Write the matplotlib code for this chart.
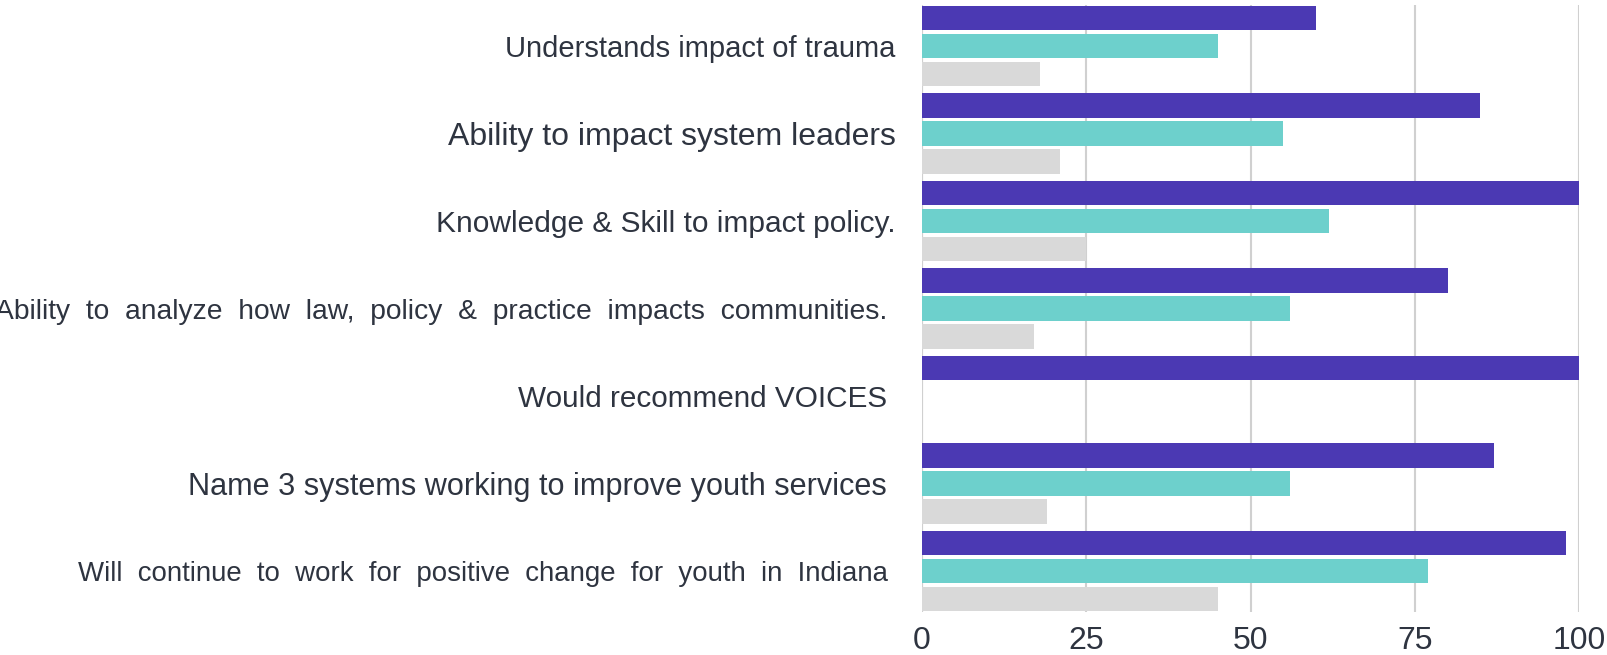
import matplotlib.pyplot as plt
import numpy as np

# survey items, top to bottom
categories = [
    "Understands impact of trauma",
    "Ability to impact system leaders",
    "Knowledge & Skill to impact policy.",
    "Ability  to  analyze  how  law,  policy  &  practice  impacts  communities. ",
    "Would recommend VOICES ",
    "Name 3 systems working to improve youth services ",
    "Will  continue  to  work  for  positive  change  for  youth  in  Indiana ",
]
series_purple = [60, 85, 100, 80, 100, 87, 98]
series_teal = [45, 55, 62, 56, 0, 56, 77]
series_gray = [18, 21, 25, 17, 0, 19, 45]
x_ticks = [0, 25, 50, 75, 100]
# label sizes differ a little in the original
label_sizes = [21, 23, 21.5, 20.3, 21.4, 22.1, 19.9]

purple = "#4b39b3"
teal = "#6dd0cc"
gray = "#d9d9d9"
text_color = "#2e3440"

plt.rcParams['font.family'] = ['Liberation Sans', 'DejaVu Sans']

fig = plt.figure(figsize=(16.07, 6.55), dpi=100)
ax = fig.add_axes([922 / 1607, 1 - 612 / 655, (1579 - 922) / 1607, 607 / 655])

y = np.arange(len(categories))
h = 0.28
off = 0.32
ax.barh(y - off, series_purple, height=h, color=purple, zorder=3)
ax.barh(y, series_teal, height=h, color=teal, zorder=3)
ax.barh(y + off, series_gray, height=h, color=gray, zorder=3)

ax.set_xlim(0, 100)
ax.set_ylim(len(categories) - 1 + 0.47, -0.47)
ax.set_xticks(x_ticks)
ax.set_yticks(y)
ax.set_yticklabels(categories)
for lbl, fs in zip(ax.get_yticklabels(), label_sizes):
    lbl.set_fontsize(fs)

ax.grid(axis='x', color='#d0d0d0', linewidth=1.5, zorder=0)
ax.axvline(0, color='#d0d0d0', linewidth=1.5, zorder=1)
for s in ax.spines.values():
    s.set_visible(False)

ax.tick_params(axis='y', length=0, pad=19, labelcolor=text_color)
ax.tick_params(axis='x', length=0, pad=10, labelsize=23, labelcolor=text_color)

fig.savefig("out.png", dpi=100)
